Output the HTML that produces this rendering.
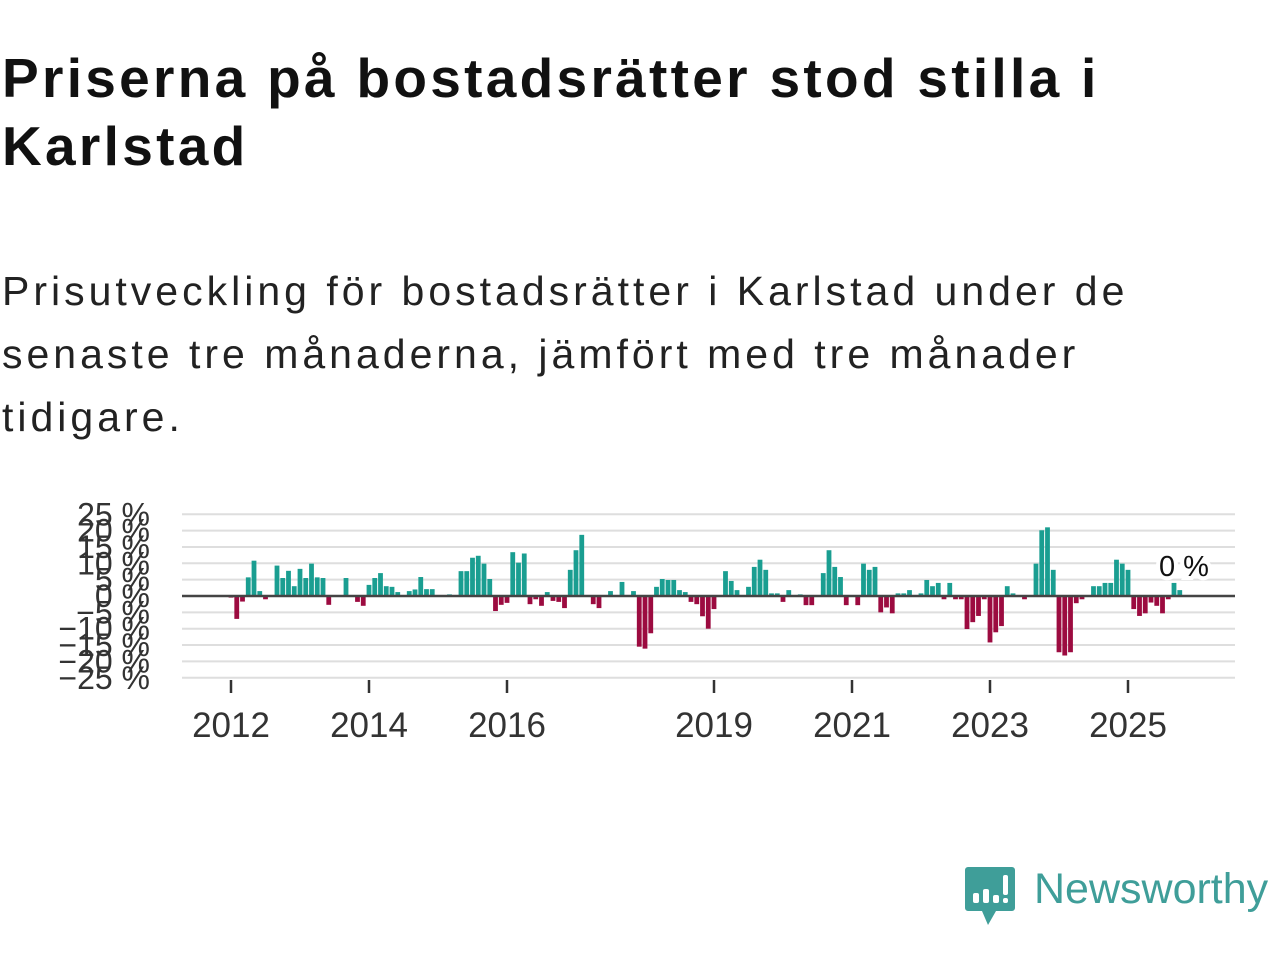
<!DOCTYPE html>
<html><head><meta charset="utf-8">
<style>
body{margin:0;width:1280px;height:960px;background:#fff;position:relative;overflow:hidden;font-family:"Liberation Sans",sans-serif;}
.t{position:absolute;margin:0;white-space:nowrap;}
#title{left:2px;top:44px;font-size:55px;font-weight:bold;line-height:68px;color:#111;letter-spacing:3.3px;}
#sub{left:2px;top:260px;font-size:41px;line-height:63px;color:#222;letter-spacing:4px;}
#logo-text{left:1034px;top:865px;font-size:43px;color:#3f9e99;}
</style></head><body>
<h1 class="t" id="title">Priserna på bostadsrätter stod stilla i<br>Karlstad</h1>
<p class="t" id="sub">Prisutveckling för bostadsrätter i Karlstad under de<br>senaste tre månaderna, jämfört med tre månader<br>tidigare.</p>
<svg id="chart" width="1280" height="960" style="position:absolute;left:0;top:0"></svg>
<svg class="t" style="left:964px;top:865px" width="52" height="62">
<path d="M4 2h44a3 3 0 0 1 3 3v38a3 3 0 0 1-3 3H32l-8 14-6-14H4a3 3 0 0 1-3-3V5a3 3 0 0 1 3-3z" fill="#3f9e99"/>
<rect x="9" y="28" width="6" height="10" rx="2" fill="#fff"/><rect x="19" y="24" width="6" height="14" rx="2" fill="#fff"/><rect x="29" y="30" width="6" height="8" rx="2" fill="#fff"/><rect x="39" y="10" width="5" height="20" rx="2" fill="#fff"/><rect x="39" y="33" width="5" height="5" rx="2" fill="#fff"/>
</svg>
<div class="t" id="logo-text">Newsworthy</div>
<script>
const values=[-0.5,-7,-1.7,5.7,10.8,1.5,-1,0,9.3,5.5,7.7,3,8.3,5.5,9.9,5.7,5.5,-2.7,0,0,5.5,0,-1.8,-3,3.4,5.5,7,3,2.8,1.2,0,1.5,2,5.8,2.1,2.1,0,0,0.5,0,7.6,7.6,11.7,12.3,9.9,5.2,-4.6,-2.7,-2.1,13.4,10.2,13,-2.5,-1,-3,1.2,-1.5,-1.8,-3.7,8,14,18.7,0,-2.5,-3.7,0,1.5,0,4.3,0,1.5,-15.5,-16.1,-11.4,2.8,5.2,4.9,4.9,1.8,1.2,-1.8,-2.5,-6.2,-10,-4,0,7.6,4.6,1.8,0,2.8,8.9,11.1,8,0.8,0.8,-1.8,1.8,0,0.5,-2.8,-2.8,0,7,14,8.9,5.8,-2.8,0,-2.8,9.9,8,8.9,-5,-3.5,-5.3,0.8,0.8,1.8,0,0.8,4.9,3,4,-1,4,-1,-1,-10.1,-8,-6.1,-1,-14.2,-11.1,-9.2,3,0.8,0,-1,0,9.9,20.1,21,8,-17.2,-18.2,-17.2,-2.2,-1,0,3,3,4,4,11.1,9.9,8,-4,-6.1,-5.3,-2,-3,-5.3,-1,4,1.8];
const startYear=2012;
const yTicks=[25,20,15,10,5,0,-5,-10,-15,-20,-25];
const xTickYears=[2012,2014,2016,2019,2021,2023,2025];
const lastLabel="0 %";
const NS="http://www.w3.org/2000/svg";
const svg=document.getElementById('chart');
const X0=182,X1=1235;
function xm(m){return 231+m*5.75;}
function xy(yr){return xm((yr-startYear)*12);}
function y(v){return 596-v*3.27;}
function mk(tag,attrs){const e=document.createElementNS(NS,tag);for(const k in attrs)e.setAttribute(k,attrs[k]);svg.appendChild(e);return e;}
yTicks.forEach(t=>{
  const l=mk('line',{x1:X0,x2:X1,y1:y(t),y2:y(t),stroke:'#dedede','stroke-width':2});
  
  
  const tx=mk('text',{x:150,y:y(t)+11,'text-anchor':'end','font-size':32,fill:'#333','font-family':'Liberation Sans, sans-serif'});
  tx.textContent=(t<0?'\u2212'+(-t):t)+' %';
  
  
});
values.forEach((v,i)=>{
  const r=mk('rect',{x:xm(i)-2.4,width:4.8,y:Math.min(y(v),596),height:Math.abs(y(v)-596),fill:v>=0?'#1a9e91':'#9c0b40'});
  
  
});
const z=mk('line',{x1:X0,x2:X1,y1:596,y2:596,stroke:'#444','stroke-width':2.5});


xTickYears.forEach(yr=>{
  const l=mk('line',{x1:xy(yr),x2:xy(yr),y1:680,y2:693,stroke:'#333','stroke-width':2.5});
  
  
  const t=mk('text',{x:xy(yr),y:737,'text-anchor':'middle','font-size':35,fill:'#333','font-family':'Liberation Sans, sans-serif'});
  t.textContent=yr;
  
  
});
const lb=mk('text',{x:1184,y:576,'text-anchor':'middle','font-size':29,fill:'#111',stroke:'#fff','stroke-width':8,'paint-order':'stroke','font-family':'Liberation Sans, sans-serif'});
lb.textContent=lastLabel;


</script>
</body></html>
